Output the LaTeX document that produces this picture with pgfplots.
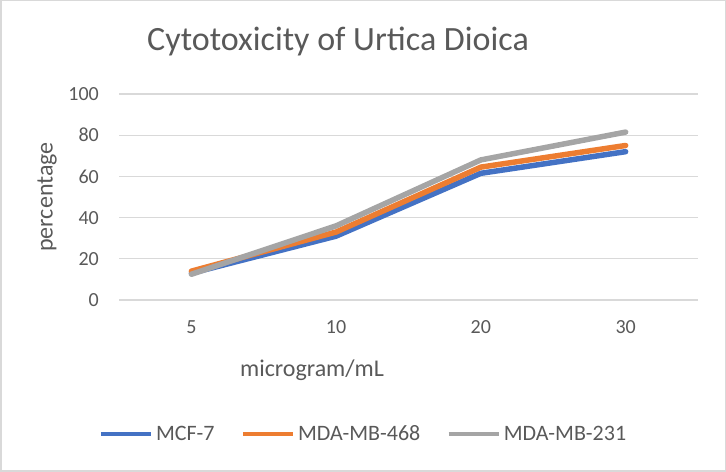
\documentclass[border=0pt]{standalone}
\usepackage{pgfplots}
\pgfplotsset{compat=1.18}
\usepackage{fontspec}
\setmainfont{Carlito}
\definecolor{txt}{HTML}{595959}
\definecolor{gridc}{HTML}{D9D9D9}
\definecolor{cblue}{HTML}{4472C4}
\definecolor{corange}{HTML}{ED7D31}
\definecolor{cgray}{HTML}{A5A5A5}
\begin{document}
\begin{tikzpicture}[x=1bp,y=1bp]
\path[use as bounding box] (0,0) rectangle (726,472);
\draw[color=gridc, line width=1.5bp] (0.75,0.75) rectangle (725.25,471.25);
\begin{axis}[
  at={(119bp,172bp)}, anchor=south west,
  scale only axis, width=579bp, height=206bp,
  xmin=-0.5, xmax=3.5, ymin=0, ymax=100,
  axis line style={draw=none},
  major tick length=0pt,
  xtick={0,1,2,3}, xticklabels={5,10,20,30},
  ytick={0,20,40,60,80,100},
  ymajorgrids, grid style={color=gridc, line width=1.2bp},
  /pgf/number format/assume math mode=true,
  tick label style={font=\fontsize{20bp}{24bp}\selectfont, text=txt, inner sep=0pt},
  xticklabel style={anchor=base, yshift=-33.5bp},
  yticklabel style={anchor=east, xshift=-20bp},
  clip=false,
  legend columns=3,
  legend style={at={(0.422,-0.650)}, anchor=center, draw=none, fill=none,
    inner sep=0pt, text=txt, font=\fontsize{22bp}{26bp}\selectfont,
    /tikz/every odd column/.append style={column sep=1bp},
    /tikz/every even column/.append style={column sep=24bp},
    nodes={inner sep=2bp},
    cells={anchor=west}},
  legend image code/.code={\draw[#1, line width=4.5bp, line cap=butt] (0bp,0bp) -- (50bp,0bp);},
  every axis plot/.append style={line width=5.5bp, line join=round, line cap=round, mark=none},
]
\addplot[color=cblue] coordinates {(0,13) (1,31) (2,61.5) (3,72)};
\addlegendentry{MCF-7}
\addplot[color=corange] coordinates {(0,14) (1,33) (2,64.5) (3,75)};
\addlegendentry{MDA-MB-468}
\addplot[color=cgray] coordinates {(0,12.5) (1,36) (2,68) (3,81.5)};
\addlegendentry{MDA-MB-231}
\end{axis}
\node[anchor=base, text=txt, font=\fontsize{34bp}{40bp}\selectfont, inner sep=0pt] at (338,421) {Cytotoxicity of Urtica Dioica};
\node[anchor=center, text=txt, font=\fontsize{24bp}{28bp}\selectfont, inner sep=0pt] at (312,102) {microgram/mL};
\node[anchor=center, rotate=90, text=txt, font=\fontsize{24bp}{28bp}\selectfont, inner sep=0pt] at (47,275) {percentage};
\end{tikzpicture}
\end{document}
